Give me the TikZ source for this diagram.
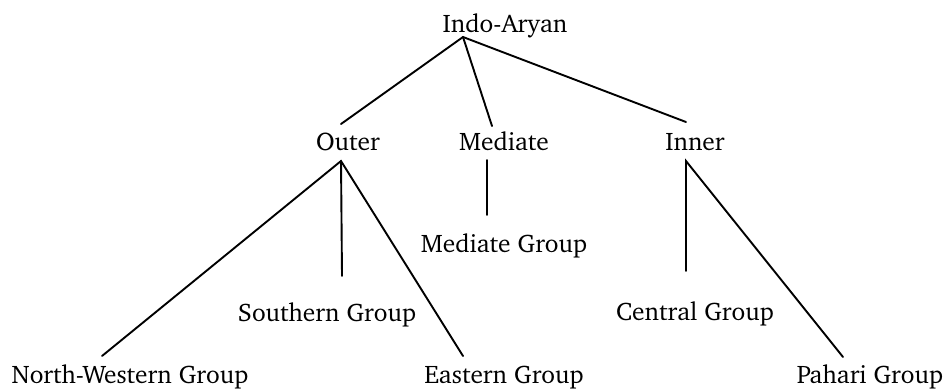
\documentclass[tikz,border=0pt]{standalone}
\usepackage[T1]{fontenc}
\usepackage{charter}
\begin{document}
\begin{tikzpicture}[x=1pt,y=-1pt,
  lbl/.style={anchor=base,inner sep=0pt,font=\fontsize{25.4}{29}\selectfont},
  edge/.style={line width=1.9pt,line cap=round}]
\useasboundingbox (0,0) rectangle (944,389);
% labels (positioned by baseline)
\node[lbl] (root) at (505,32) {Indo-Aryan};
\node[lbl] (outer) at (348,150) {Outer};
\node[lbl] (mediate) at (504,150) {Mediate};
\node[lbl] (inner) at (695,150) {Inner};
\node[lbl] (medgrp) at (504,252) {Mediate Group};
\node[lbl] (south) at (327,321) {Southern Group};
\node[lbl] (central) at (695,320) {Central Group};
\node[lbl] (nw) at (130,383) {North-Western Group};
\node[lbl] (east) at (504,383) {Eastern Group};
\node[lbl] (pahari) at (870,383) {Pahari Group};
% branch points
\coordinate (rootB) at (463,37);
\coordinate (outerT) at (341,124);
\coordinate (mediateT) at (492,126);
\coordinate (innerT) at (686,122);
\coordinate (outerB) at (341,161);
\coordinate (mediateB) at (487,160);
\coordinate (innerB) at (686,161);
\coordinate (medgrpT) at (487,215);
\coordinate (southT) at (342,276);
\coordinate (centralT) at (686,271);
\coordinate (nwT) at (102,356);
\coordinate (eastT) at (463,356);
\coordinate (pahariT) at (843,357);
% branches
\draw[edge] (outerT) -- (rootB) -- (innerT);
\draw[edge] (rootB) -- (mediateT);
\draw[edge] (nwT) -- (outerB) -- (eastT);
\draw[edge] (outerB) -- (southT);
\draw[edge] (mediateB) -- (medgrpT);
\draw[edge] (centralT) -- (innerB) -- (pahariT);
\end{tikzpicture}
\end{document}
